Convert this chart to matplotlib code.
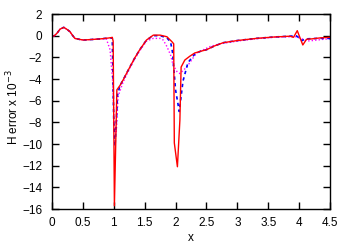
import numpy as np
import matplotlib
matplotlib.use('Agg')
import matplotlib.pyplot as plt

plt.rcParams['font.family'] = ['Liberation Sans', 'DejaVu Sans']

# red solid
red_x = [0, 0.03, 0.08, 0.13, 0.19, 0.25, 0.29, 0.33, 0.37, 0.45, 0.51, 0.65, 0.78, 0.91, 0.96,
         0.975, 0.99, 1.0, 1.01, 1.05, 1.1, 1.15, 1.2, 1.26, 1.34, 1.42, 1.53, 1.64, 1.75, 1.86,
         1.94, 1.97, 1.98, 2.03, 2.07, 2.09, 2.15, 2.23, 2.31, 2.4, 2.5, 2.63, 2.77, 3.0, 3.31,
         3.6, 3.85, 3.91, 3.97, 4.06, 4.12, 4.2, 4.35, 4.5]
red_y = [0, -0.05, 0.22, 0.6, 0.77, 0.55, 0.37, 0.05, -0.25, -0.35, -0.4, -0.35, -0.3, -0.22, -0.18,
         -0.15, -0.5, -8, -15.7, -5.0, -4.6, -4.1, -3.55, -2.9, -2.05, -1.3, -0.4, 0.05, 0.05, -0.1,
         -0.55, -0.75, -9.9, -12.1, -7.8, -2.9, -2.25, -1.9, -1.6, -1.45, -1.3, -0.95, -0.65, -0.45, -0.25,
         -0.12, -0.05, -0.15, 0.46, -0.86, -0.33, -0.3, -0.2, -0.15]

# blue dashed
blue_x = [0, 0.03, 0.08, 0.13, 0.19, 0.25, 0.29, 0.33, 0.37, 0.45, 0.51, 0.65, 0.78, 0.91, 0.96,
          0.975, 0.985, 1.0, 1.02, 1.045, 1.06, 1.1, 1.15, 1.2, 1.26, 1.34, 1.42, 1.53, 1.64, 1.75,
          1.86, 1.92, 1.95, 2.0, 2.06, 2.12, 2.2, 2.31, 2.4, 2.5, 2.63, 2.77, 3.0, 3.31, 3.6,
          3.85, 3.95, 4.0, 4.05, 4.1, 4.3, 4.5]
blue_y = [0, -0.05, 0.22, 0.6, 0.77, 0.55, 0.37, 0.05, -0.25, -0.35, -0.4, -0.35, -0.3, -0.22, -0.2,
          -0.2, -3, -8, -10.2, -7.5, -5.5, -4.6, -4.1, -3.55, -2.9, -2.05, -1.3, -0.4, 0.0, 0.0,
          -0.2, -0.6, -1.5, -5, -7.0, -4.2, -2.5, -1.7, -1.45, -1.3, -0.95, -0.65, -0.45, -0.25, -0.12,
          -0.05, 0.0, -0.2, -0.45, -0.3, -0.25, -0.25]

# magenta dotted
mag_x = [0, 0.03, 0.08, 0.13, 0.19, 0.25, 0.29, 0.33, 0.37, 0.45, 0.51, 0.65, 0.78, 0.88, 0.94,
         0.98, 1.01, 1.04, 1.07, 1.15, 1.26, 1.34, 1.42, 1.53, 1.64, 1.75, 1.8, 1.86, 1.92, 1.96,
         2.02, 2.07, 2.18, 2.34, 2.56, 2.72, 3.0, 3.31, 3.6, 3.85, 3.95, 4.05, 4.12, 4.22, 4.4, 4.5]
mag_y = [0, -0.05, 0.22, 0.6, 0.77, 0.55, 0.37, 0.05, -0.25, -0.35, -0.4, -0.35, -0.3, -0.3, -1.3,
         -4.1, -8.5, -9, -5.6, -4.3, -3.0, -2.15, -1.4, -0.5, -0.25, -0.25, -0.4, -1.0, -1.8, -2.7,
         -3.3, -3.5, -2.9, -1.6, -1.0, -0.75, -0.5, -0.28, -0.15, -0.1, -0.1, -0.3, -0.5, -0.45, -0.33, -0.3]

fig = plt.figure(figsize=(3.5, 2.45), dpi=100)
ax = fig.add_axes([52 / 350, 36 / 245, 278 / 350, 195 / 245])

ax.plot(mag_x, mag_y, color='#ff00ff', lw=1.0, linestyle=(0, (1, 1.5)))
ax.plot(blue_x, blue_y, color='#0000ff', lw=1.2, linestyle=(0, (2, 2)))
ax.plot(red_x, red_y, color='#ff0000', lw=1.0)

ax.set_xlim(0, 4.5)
ax.set_ylim(-16, 2)
ax.set_xticks(np.arange(0, 4.51, 0.5))
ax.set_xticklabels(['0', '0.5', '1', '1.5', '2', '2.5', '3', '3.5', '4', '4.5'])
ax.set_yticks(np.arange(-16, 2.1, 2))
ax.tick_params(direction='in', length=5, width=1, top=True, right=True, labelsize=8.5)
ax.tick_params(axis='x', pad=6)
ax.tick_params(axis='y', pad=7)
for s in ax.spines.values():
    s.set_linewidth(1)

ax.set_xlabel('x', fontsize=8.5, labelpad=2)
ax.set_ylabel('H error x 10$^{-3}$', fontsize=8.5, va='center')
ax.yaxis.set_label_coords(-0.14, 0.52)

fig.savefig('out.png', dpi=100)
